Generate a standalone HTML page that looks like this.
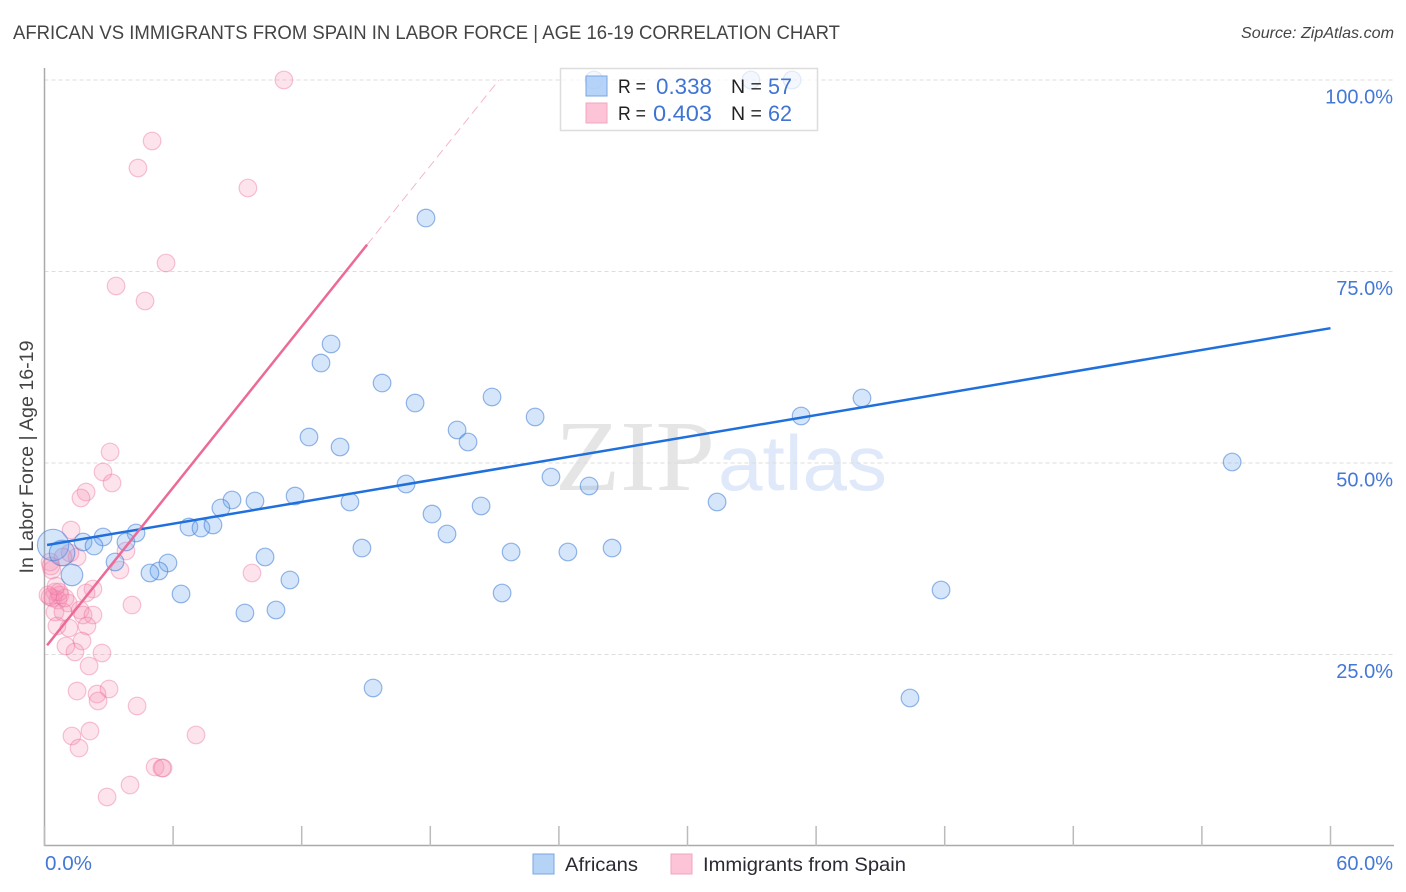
<!DOCTYPE html>
<html>
<head>
<meta charset="utf-8">
<title>African vs Immigrants from Spain in Labor Force</title>
<style>
html,body{margin:0;padding:0;background:#fff;}
svg{display:block;font-family:"Liberation Sans",sans-serif;}
</style>
</head>
<body>
<svg id="chart" width="1406" height="892" viewBox="0 0 1406 892" xmlns="http://www.w3.org/2000/svg">
  <text x="13" y="39" font-size="19.5" fill="#444" textLength="827" lengthAdjust="spacingAndGlyphs">AFRICAN VS IMMIGRANTS FROM SPAIN IN LABOR FORCE | AGE 16-19 CORRELATION CHART</text>
  <text x="1241" y="38" font-size="16" font-style="italic" fill="#444" textLength="153" lengthAdjust="spacingAndGlyphs">Source: ZipAtlas.com</text>

  <g>
    <text x="555" y="490" font-family="'Liberation Serif',serif" font-size="101" fill="#e5e5e5" textLength="160" lengthAdjust="spacingAndGlyphs">ZIP</text>
    <text x="718" y="490" font-size="78" fill="#dfe9f9" textLength="169" lengthAdjust="spacingAndGlyphs">atlas</text>
  </g>

  <g id="grid"></g>
  <g id="axes"></g>
  <g id="pink-points"></g>
  <g id="blue-points"></g>
  <g id="trends"></g>

  <text transform="translate(33,457) rotate(-90)" font-size="19.5" fill="#444" text-anchor="middle" textLength="233" lengthAdjust="spacingAndGlyphs">In Labor Force | Age 16-19</text>

  <g>
    <rect x="560.5" y="68.5" width="257" height="62" fill="#fff" fill-opacity="0.72" stroke="#ddd" stroke-width="1.5"/>
    <rect x="586" y="76" width="21" height="20" fill="#a9cbf7" fill-opacity="0.85" stroke="#7aa5e3" stroke-width="1"/>
    <rect x="586" y="103" width="21" height="20" fill="#fcc4d6" stroke="#f2a6bf" stroke-width="1"/>
    <text x="618" y="93" font-size="19.5" fill="#222" textLength="28" lengthAdjust="spacingAndGlyphs">R =</text>
    <text x="656" y="94" font-size="22" fill="#3f74d4" textLength="56" lengthAdjust="spacingAndGlyphs">0.338</text>
    <text x="731" y="93" font-size="19.5" fill="#222">N =</text>
    <text x="768" y="94" font-size="22" fill="#3f74d4" textLength="24" lengthAdjust="spacingAndGlyphs">57</text>
    <text x="618" y="120" font-size="19.5" fill="#222" textLength="28" lengthAdjust="spacingAndGlyphs">R =</text>
    <text x="653" y="121" font-size="22" fill="#3f74d4" textLength="59" lengthAdjust="spacingAndGlyphs">0.403</text>
    <text x="731" y="120" font-size="19.5" fill="#222">N =</text>
    <text x="768" y="121" font-size="22" fill="#3f74d4" textLength="24" lengthAdjust="spacingAndGlyphs">62</text>
  </g>

  <g>
    <rect x="533" y="854" width="21" height="20" fill="#b5d3f6" stroke="#7aa5e3" stroke-width="1"/>
    <text x="565" y="871" font-size="19.5" fill="#2a2a33" textLength="73" lengthAdjust="spacingAndGlyphs">Africans</text>
    <rect x="671" y="854" width="21" height="20" fill="#fcc4d6" stroke="#f2a6bf" stroke-width="1"/>
    <text x="703" y="871" font-size="19.5" fill="#2a2a33" textLength="203" lengthAdjust="spacingAndGlyphs">Immigrants from Spain</text>
  </g>
</svg>

<script>
const yTickValues = [25, 50, 75, 100];
const yTickLabels = ["25.0%", "50.0%", "75.0%", "100.0%"];
const xTickValues = [0, 6, 12, 18, 24, 30, 36, 42, 48, 54, 60];
const xEndLabels = ["0.0%", "60.0%"];

const africansX = [25.64,32.96,34.88,17.80,13.37,12.90,15.75,17.29,20.88,22.89,38.14,35.30,19.25,19.76,12.34,13.79,23.63,25.41,55.41,16.87,11.69,14.25,8.75,9.82,8.23,20.37,31.38,18.08,6.74,7.30,7.86,18.78,4.27,2.73,1.80,2.31,3.80,14.81,21.77,24.42,26.48,10.29,5.76,5.34,4.92,3.29,11.45,6.37,21.35,41.83,10.80,9.35,15.33,40.38,0.40,0.82,1.28];
const africansY = [100,100,100,81.98,65.54,63.05,60.44,57.83,58.62,56.01,58.49,56.14,54.31,52.74,53.39,52.09,48.17,47.00,50.13,47.26,45.69,44.91,45.17,45.04,44.13,44.39,44.91,43.34,41.64,41.51,41.91,40.73,40.86,40.34,39.69,39.16,39.69,38.90,38.38,38.38,38.90,37.73,36.95,35.90,35.64,37.08,34.73,32.90,33.03,33.42,30.81,30.42,20.63,19.32,39.30,38.25,35.38];
const africansWeight = [1,1,1,1,1,1,1,1,1,1,1,1,1,1,1,1,1,1,1,1,1,1,1,1,1,1,1,1,1,1,1,1,1,1,1,1,1,1,1,1,1,1,1,1,1,1,1,1,1,1,1,1,1,1,3.16,2.09,1.5];

const spainX = [11.17,5.02,4.36,9.49,5.67,3.34,4.69,3.06,2.73,3.15,1.94,1.70,9.68,1.24,3.80,3.52,4.08,2.26,1.94,1.52,1.19,0.86,0.26,0.35,0.30,0.49,0.40,0.72,0.63,0.26,1.10,0.49,0.86,1.66,1.80,2.26,1.98,1.14,0.58,1.75,1.00,1.42,2.68,2.08,1.52,2.45,3.01,2.50,4.32,2.12,1.28,1.61,7.07,5.16,5.53,5.48,3.99,2.92,0.68,0.16,0.96,0.54];
const spainY = [100,92.04,88.51,85.90,76.11,73.11,71.15,51.44,48.83,47.39,46.21,45.43,35.64,41.25,38.51,36.03,31.46,33.55,33.03,37.73,38.25,37.73,37.08,36.03,36.55,33.16,32.38,32.77,32.11,32.51,31.72,30.55,30.55,30.81,30.16,30.16,28.72,28.46,28.72,26.76,26.11,25.33,25.20,23.50,20.23,19.84,20.50,18.93,18.28,15.01,14.36,12.79,14.49,10.31,10.18,10.18,7.96,6.40,33.16,32.77,32.38,33.94];

const africansTrendX = [0.12, 60];
const africansTrendY = [39.3, 67.6];
const spainTrendX = [0.12, 15.05];
const spainTrendY = [26.2, 78.5];
const spainTrendExtX = [15.05, 21.2];
const spainTrendExtY = [78.5, 100];

const NS = "http://www.w3.org/2000/svg";
function xScale(v) { return 44.5 + v * (1330.5 - 44.5) / 60; }
function yScale(v) { return 846 - v * (846 - 80) / 100; }

function make(tag, parentId, attrs, text) {
  const el = document.createElementNS(NS, tag);
  for (const k in attrs) el.setAttribute(k, attrs[k]);
  if (text !== undefined) el.textContent = text;
  document.getElementById(parentId).appendChild(el);
  return el;
}

yTickValues.forEach(function (v, i) {
  const line = make("line", "grid", {x1: 44.5, x2: 1394, y1: yScale(v), y2: yScale(v), stroke: "#ddd", "stroke-width": 1, "stroke-dasharray": "4 3"});
  
  
  const label = make("text", "axes", {x: 1393, y: yScale(v) + 23.5, "font-size": 20, fill: "#4478d6", "text-anchor": "end"}, yTickLabels[i]);
  
  
});

const yAxisLine = make("line", "axes", {x1: 44.5, x2: 44.5, y1: 68, y2: 846, stroke: "#aaa", "stroke-width": 1.5});


const xAxisLine = make("line", "axes", {x1: 44, x2: 1394, y1: 845.5, y2: 845.5, stroke: "#aaa", "stroke-width": 1.5});



xTickValues.forEach(function (v) {
  const tick = make("line", "axes", {x1: xScale(v), x2: xScale(v), y1: 826, y2: 846, stroke: "#bbb", "stroke-width": 1.5});
  
  
});

const xLabelStart = make("text", "axes", {x: 45, y: 870, "font-size": 20, fill: "#4478d6", textLength: 47, lengthAdjust: "spacingAndGlyphs"}, xEndLabels[0]);


const xLabelEnd = make("text", "axes", {x: 1393, y: 870, "font-size": 20, fill: "#4478d6", "text-anchor": "end"}, xEndLabels[1]);



spainX.forEach(function (v, i) {
  const c = make("circle", "pink-points", {cx: xScale(v), cy: yScale(spainY[i]), r: 8.8, fill: "#f78fb3", "fill-opacity": 0.25, stroke: "#ec6f9a", "stroke-opacity": 0.4, "stroke-width": 1.2});
  
  
});

africansX.forEach(function (v, i) {
  const c = make("circle", "blue-points", {cx: xScale(v), cy: yScale(africansY[i]), r: 8.8 * Math.sqrt(africansWeight[i]), fill: "#6aa5ee", "fill-opacity": 0.28, stroke: "#3f7bd6", "stroke-opacity": 0.55, "stroke-width": 1.2});
  
  
});

const blueTrend = make("line", "trends", {x1: xScale(africansTrendX[0]), y1: yScale(africansTrendY[0]), x2: xScale(africansTrendX[1]), y2: yScale(africansTrendY[1]), stroke: "#1f6fdc", "stroke-width": 2.5});


const pinkTrend = make("line", "trends", {x1: xScale(spainTrendX[0]), y1: yScale(spainTrendY[0]), x2: xScale(spainTrendX[1]), y2: yScale(spainTrendY[1]), stroke: "#ec6a98", "stroke-width": 2.5});


const pinkExt = make("line", "trends", {x1: xScale(spainTrendExtX[0]), y1: yScale(spainTrendExtY[0]), x2: xScale(spainTrendExtX[1]), y2: yScale(spainTrendExtY[1]), stroke: "#f4b6cb", "stroke-width": 1, "stroke-dasharray": "9 5"});


</script>
</body>
</html>
